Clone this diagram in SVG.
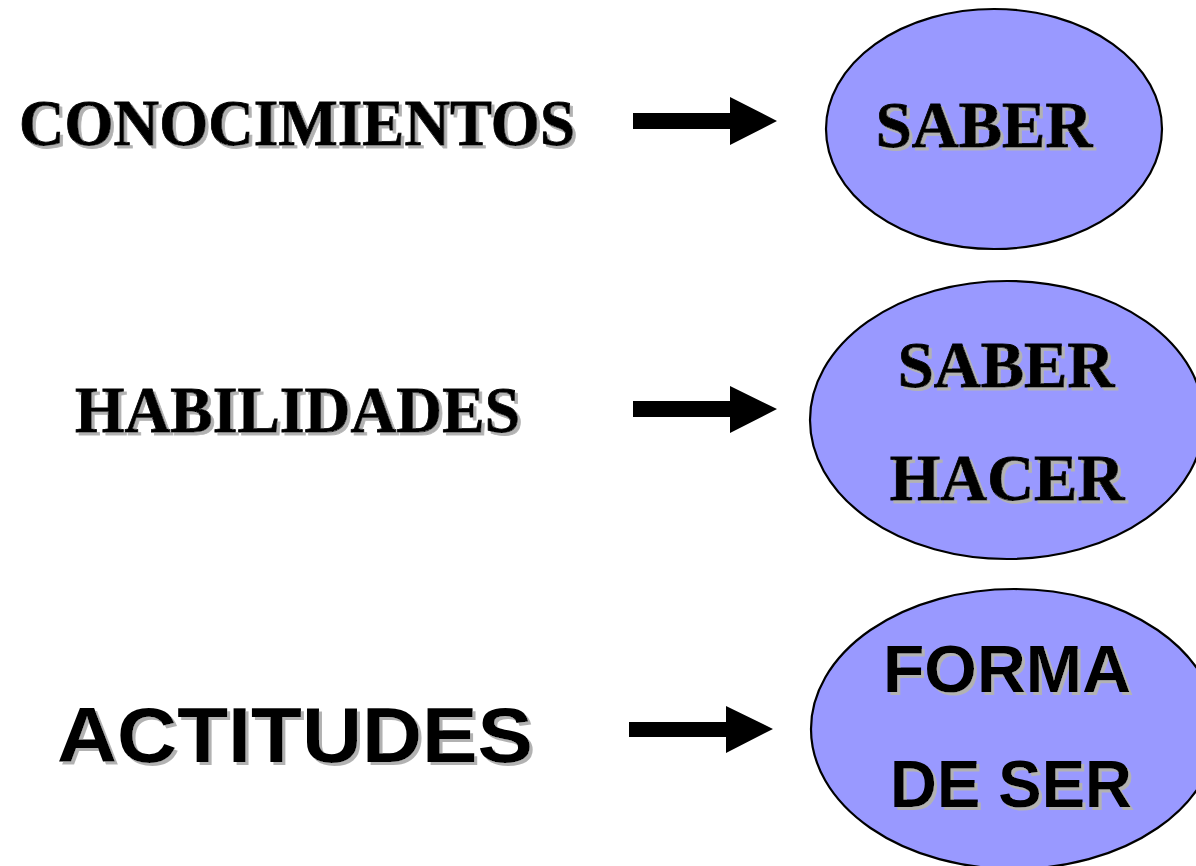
<svg xmlns="http://www.w3.org/2000/svg" width="1196" height="866" viewBox="0 0 1196 866">
<defs>
<style>
.serif{font-family:"Liberation Serif","Times New Roman",serif;font-weight:bold;font-size:65px;fill:#000;stroke:#000;stroke-width:0.8;filter:url(#sh)}
.sans{font-family:"Liberation Sans",Arial,sans-serif;font-weight:bold;fill:#000;filter:url(#sh)}
.node{fill:#9999ff;stroke:#000;stroke-width:2.2}
.arrow{fill:#000}
</style>
<filter id="sh" x="-10%" y="-30%" width="120%" height="160%">
<feOffset in="SourceAlpha" dx="3" dy="3" result="o"/>
<feFlood flood-color="#b2b2b2"/>
<feComposite in2="o" operator="in" result="s"/>
<feMerge><feMergeNode in="s"/><feMergeNode in="SourceGraphic"/></feMerge>
</filter>
</defs>
<rect width="1196" height="866" fill="#fff"/>
<g id="label-conocimientos"><text class="serif" x="19" y="145" font-size="67" textLength="556" lengthAdjust="spacingAndGlyphs">CONOCIMIENTOS</text></g>
<g id="label-habilidades"><text class="serif" x="75" y="432" textLength="445" lengthAdjust="spacingAndGlyphs">HABILIDADES</text></g>
<g id="label-actitudes"><text class="sans" x="57" y="762" font-size="77" textLength="476" lengthAdjust="spacingAndGlyphs">ACTITUDES</text></g>
<g id="connectors">
<polygon class="arrow" points="633,113 730,113 730,97 777,121 730,145 730,129 633,129"/>
<polygon class="arrow" points="633,401 730,401 730,386 777,409 730,433 730,417 633,417"/>
<polygon class="arrow" points="629,722 726,722 726,706 773,729 726,753 726,737 629,737"/>
</g>
<g id="node-saber">
<ellipse class="node" cx="994" cy="129" rx="168" ry="120"/>
<text class="serif" x="984" y="147" text-anchor="middle">SABER</text>
</g>
<g id="node-saber-hacer">
<ellipse class="node" cx="1007" cy="420" rx="197" ry="139"/>
<text class="serif" x="1006" y="387" text-anchor="middle">SABER</text>
<text class="serif" x="1007" y="500" text-anchor="middle">HACER</text>
</g>
<g id="node-forma-de-ser">
<ellipse class="node" cx="1014" cy="729" rx="203" ry="140"/>
<text class="sans" x="1007" y="692" font-size="67" text-anchor="middle" textLength="248" lengthAdjust="spacingAndGlyphs">FORMA</text>
<text class="sans" x="1011" y="807" font-size="66" text-anchor="middle" textLength="242" lengthAdjust="spacingAndGlyphs">DE SER</text>
</g>
</svg>
